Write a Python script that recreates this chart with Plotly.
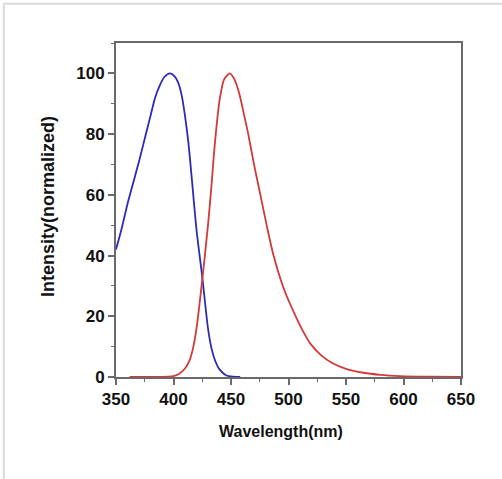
import plotly.graph_objects as go

# Excitation (blue) spectrum
blue_wl = [350, 355, 360, 365, 370, 376, 380, 384, 388, 392, 397, 401, 404, 407, 410, 413,
           416, 420, 425, 430, 433, 436, 440, 446, 452, 458]
blue_int = [42, 49, 57, 64, 71, 80, 86, 92, 96, 98.8, 100, 99, 97, 93, 86, 77,
            65, 48.5, 33, 16, 9.5, 5.6, 2.5, 0.5, 0.1, 0]

# Emission (red) spectrum
red_wl = [362, 380, 395, 400, 405, 410, 414, 417, 420, 425, 430, 433, 436, 440, 444, 449,
          453, 457, 461, 465, 470, 475, 481, 487, 496, 505, 512, 519, 528, 538, 550,
          565, 580, 597, 620, 650]
red_int = [0, 0, 0.1, 0.3, 1.1, 2.8, 5.5, 9.5, 16, 32, 50, 63, 77, 91, 98, 100,
           98, 93.6, 87, 80, 70, 61, 50, 40, 29, 21, 15.5, 11, 7.3, 4.6, 2.7,
           1.4, 0.7, 0.3, 0.1, 0]

x_ticks = [350, 400, 450, 500, 550, 600, 650]
y_ticks = [0, 20, 40, 60, 80, 100]

FONT = "Liberation Sans, Arial, sans-serif"
AXIS_COLOR = "#6a6a6a"
TXT = "#111111"

fig = go.Figure()
fig.add_trace(go.Scatter(x=blue_wl, y=blue_int, mode="lines",
                         line=dict(color="#2b2bb5", width=1.8, shape="spline", smoothing=0.7),
                         showlegend=False))
fig.add_trace(go.Scatter(x=red_wl, y=red_int, mode="lines",
                         line=dict(color="#d23a3a", width=1.8, shape="spline", smoothing=0.7),
                         showlegend=False))

fig.update_layout(
    width=502, height=479,
    margin=dict(l=116, r=41, t=43, b=102),
    paper_bgcolor="white", plot_bgcolor="white",
    font=dict(family=FONT, color=TXT),
    xaxis=dict(range=[350, 650], tickvals=x_ticks, ticktext=[str(v) for v in x_ticks],
               showgrid=False, zeroline=False, showline=True, mirror=True,
               linecolor=AXIS_COLOR, linewidth=2,
               ticks="outside", ticklen=6, tickwidth=1.5, tickcolor=AXIS_COLOR,
               tickfont=dict(size=17, family=FONT, weight="bold", color=TXT),
               minor=dict(dtick=25, tick0=350, ticks="outside", ticklen=3,
                          tickcolor=AXIS_COLOR, tickwidth=1.2, showgrid=False)),
    yaxis=dict(range=[0, 110], tickvals=y_ticks, ticktext=[str(v) for v in y_ticks],
               showgrid=False, zeroline=False, showline=True, mirror=True,
               linecolor=AXIS_COLOR, linewidth=2,
               ticks="outside", ticklen=6, tickwidth=1.5, tickcolor=AXIS_COLOR,
               tickfont=dict(size=17, family=FONT, weight="bold", color=TXT),
               minor=dict(dtick=10, tick0=0, ticks="outside", ticklen=3,
                          tickcolor=AXIS_COLOR, tickwidth=1.2, showgrid=False)),
    annotations=[
        dict(text="Wavelength(nm)", xref="paper", yref="paper",
             x=(281 - 116) / 345, y=(377 - 431) / 334, xanchor="center", yanchor="middle",
             showarrow=False, font=dict(size=16, family=FONT, weight="bold", color=TXT)),
        dict(text="Intensity(normalized)", xref="paper", yref="paper",
             x=(48 - 116) / 345, y=(377 - 207) / 334, xanchor="center", yanchor="middle",
             textangle=-90, showarrow=False,
             font=dict(size=18, family=FONT, weight="bold", color=TXT)),
    ],
    shapes=[
        dict(type="line", xref="paper", yref="paper",
             x0=(3 - 116) / 345, x1=(502 - 116) / 345,
             y0=(377 - 3.8) / 334, y1=(377 - 3.8) / 334,
             line=dict(color="#dadada", width=2)),
        dict(type="line", xref="paper", yref="paper",
             x0=(3.8 - 116) / 345, x1=(3.8 - 116) / 345,
             y0=(377 - 479) / 334, y1=(377 - 3) / 334,
             line=dict(color="#dadada", width=2)),
    ],
)

fig.write_html("out.html", config={"displayModeBar": False},
               post_script="document.body.style.margin='0';")
